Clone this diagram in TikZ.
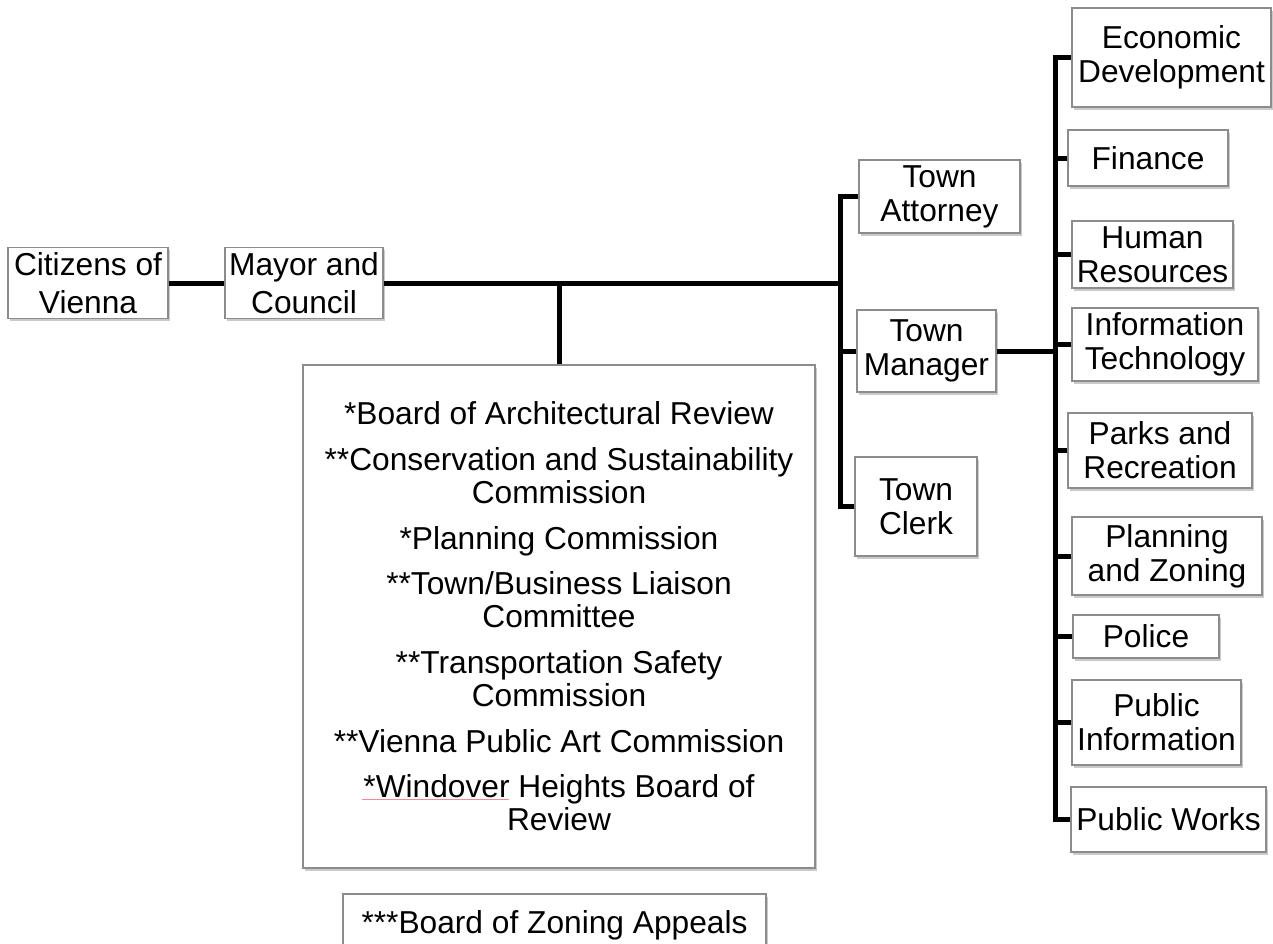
\documentclass[tikz,border=0pt]{standalone}
\usepackage{fontspec}
\setmainfont{Liberation Sans}
\usetikzlibrary{shadows}
\definecolor{spell}{RGB}{238,140,150}
\begin{document}
\begin{tikzpicture}[x=1pt,y=-1pt,
  box/.style={draw=black!45, line width=1.1pt, fill=white, inner sep=0pt, align=center,
    font=\fontsize{31.7}{34}\selectfont,
    drop shadow={shadow xshift=1.5pt, shadow yshift=-2.5pt, opacity=0.35, fill=black!60}},
  link/.style={line width=5pt, black}]
\useasboundingbox (0,0) rectangle (1273,943);

% left chain
\node[box, minimum width=160, minimum height=71] (cit) at (88,283) {Citizens of\\[4pt]Vienna};
\node[box, minimum width=158, minimum height=71] (mayor) at (304,283) {Mayor and\\[4pt]Council};

% middle column
\node[box, minimum width=161, minimum height=73] (att) at (939.5,196.5) {Town\\Attorney};
\node[box, minimum width=139, minimum height=82] (mgr) at (926.5,351) {Town\\Manager};
\node[box, minimum width=122, minimum height=99] (clerk) at (916,506.5) {Town\\Clerk};

% commissions
\node[box, minimum width=512, minimum height=503, font=\fontsize{31.7}{33.25}\selectfont] (comm) at (559,616.5)
 {*Board of Architectural Review\\[12.25pt]
  **Conservation and Sustainability\\Commission\\[12.25pt]
  *Planning Commission\\[12.25pt]
  **Town/Business Liaison\\Committee\\[12.25pt]
  **Transportation Safety\\Commission\\[12.25pt]
  **Vienna Public Art Commission\\[12.25pt]
  *Windover Heights Board of\\Review};
\node[box, minimum width=423, minimum height=62] (zon) at (554.5,925) {***Board of Zoning Appeals};

% right column
\node[box, minimum width=199, minimum height=99] (econ) at (1171.5,57.5) {Economic\\Development};
\node[box, minimum width=160, minimum height=56] (fin) at (1148,158) {Finance};
\node[box, minimum width=161, minimum height=67] (hr) at (1152.5,254.5) {Human\\Resources};
\node[box, minimum width=186, minimum height=73] (it) at (1165,344.5) {Information\\Technology};
\node[box, minimum width=184, minimum height=75] (parks) at (1160,450.5) {Parks and\\Recreation};
\node[box, minimum width=190, minimum height=78] (plan) at (1167,556) {Planning\\and Zoning};
\node[box, minimum width=146, minimum height=43] (pol) at (1146,636.5) {Police};
\node[box, minimum width=169, minimum height=85] (pinfo) at (1156.5,722.5) {Public\\Information};
\node[box, minimum width=195, minimum height=65] (pworks) at (1168.5,819.5) {Public Works};

% spell-check underline
\draw[spell, line width=1pt] (362,799) -- (509,799);

% junctions
\coordinate (jL) at (840,283);
\coordinate (jC) at (559,283);
\coordinate (jR) at (1055,351);

% connectors
\draw[link] (cit.east) -- (mayor.west);
\draw[link] (mayor.east) -- (jL);
\draw[link] (jC) -- (comm.north);
\draw[link] (jL) |- (att.west);
\draw[link] (jL) |- (mgr.west);
\draw[link] (jL) |- (clerk.west);
\draw[link] (mgr.east) -- (jR);
\foreach \n in {econ,fin,hr,it,parks,plan,pol,pinfo,pworks}
  \draw[link] (jR) |- (\n.west);
\end{tikzpicture}
\end{document}
